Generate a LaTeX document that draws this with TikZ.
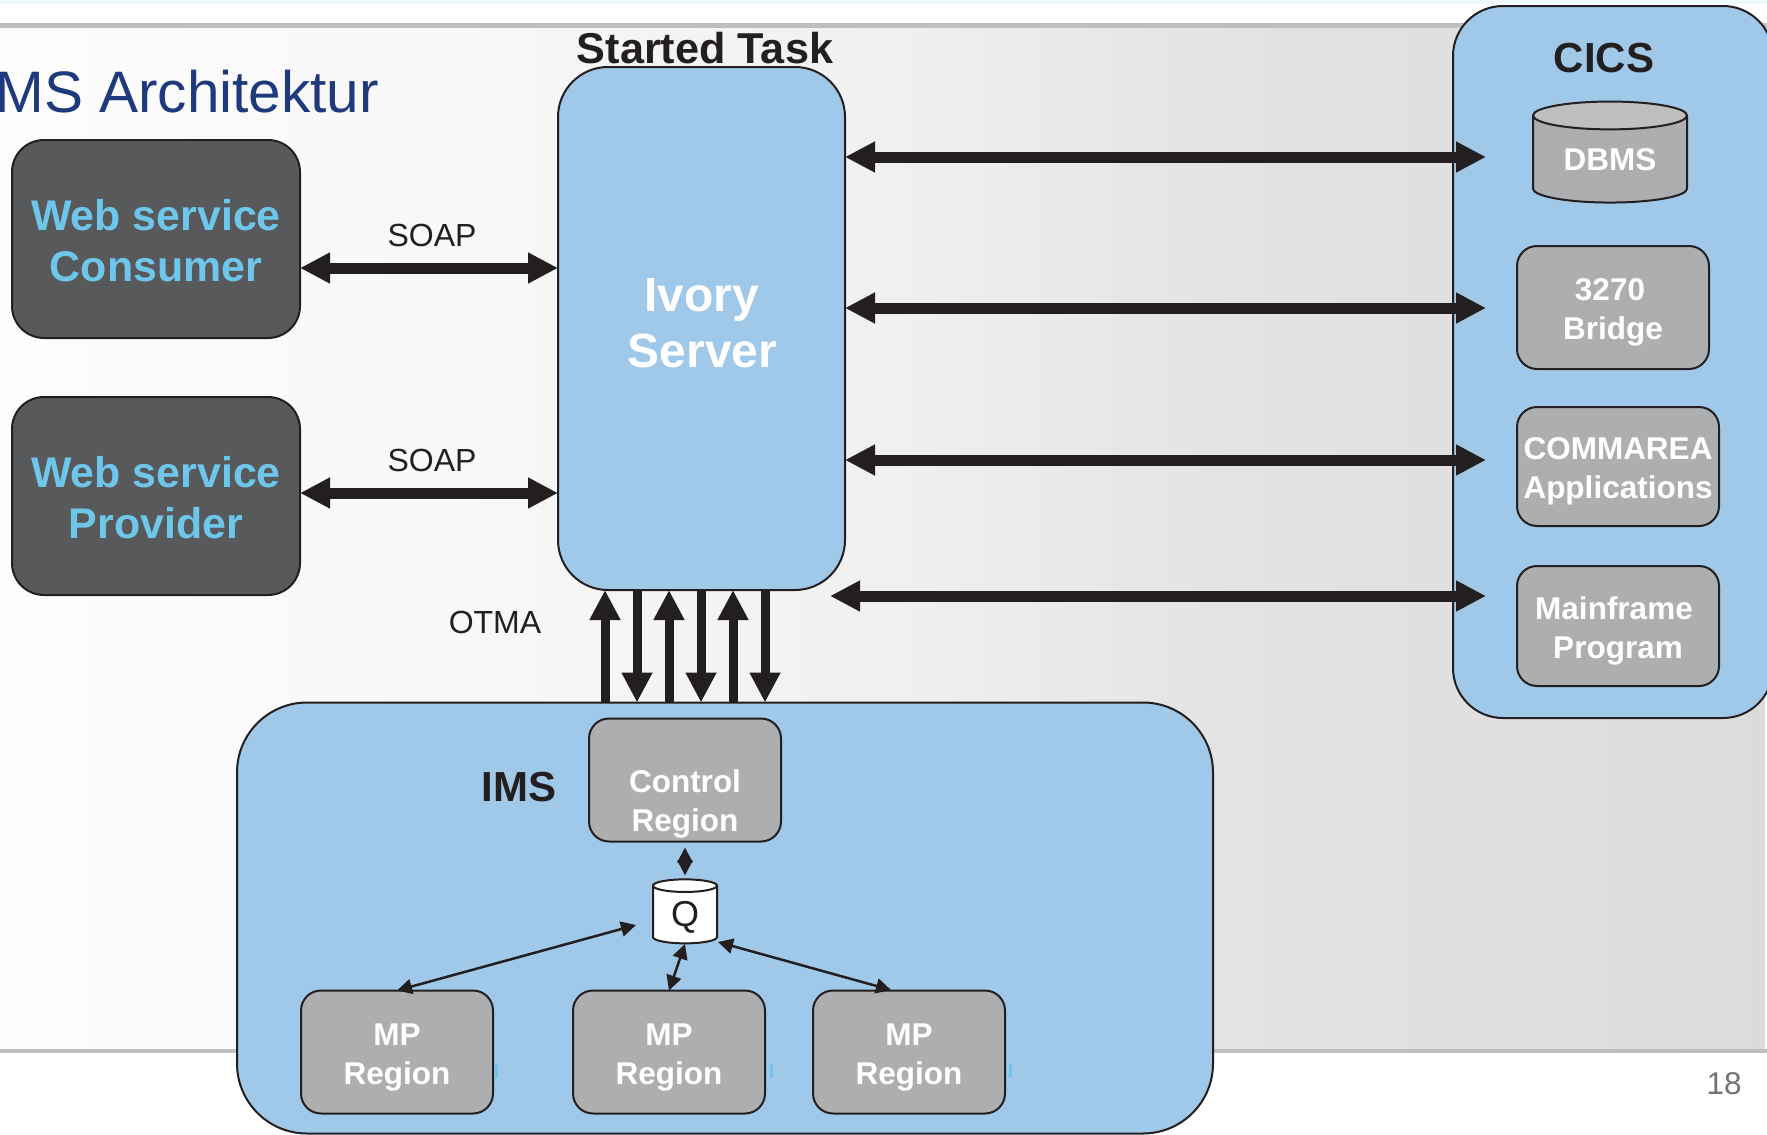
\documentclass[tikz,border=0pt]{standalone}
\usepackage{fontspec}
\setmainfont{Liberation Sans}
\usetikzlibrary{arrows.meta, positioning, shapes.geometric}
\definecolor{boxblue}{HTML}{A0C8E8}
\definecolor{boxdark}{HTML}{58595B}
\definecolor{boxgray}{HTML}{ADAEB0}
\definecolor{inkblack}{HTML}{231F20}
\definecolor{webcyan}{HTML}{6EC6EA}
\definecolor{titleblue}{HTML}{1F3A7C}
\pgfdeclarehorizontalshading{panelshade}{100bp}{color(0bp)=(black!1); color(25bp)=(black!1); color(39bp)=(black!3); color(50.5bp)=(black!6); color(60bp)=(black!11); color(75bp)=(black!14); color(100bp)=(black!14)}
\newcommand{\lowline}{\rule{0pt}{32pt}}
\newcommand{\lowweb}{\rule{0pt}{35pt}}

\begin{document}
\begin{tikzpicture}[
    x=1pt, y=-1pt,
    node distance=40pt,
    every node/.style={outer sep=0pt, inner sep=0pt, align=center, text=inkblack},
    darkbox/.style={draw=inkblack, line width=2pt, fill=boxdark, rounded corners=32pt, minimum width=288pt, minimum height=198pt, text=webcyan, font=\fontsize{42.9}{51}\selectfont\bfseries},
    bluebox/.style={draw=inkblack, line width=2pt, fill=boxblue, rounded corners=#1},
    regionbox/.style={draw=inkblack, line width=2pt, fill=boxgray, rounded corners=20pt, minimum width=192pt, minimum height=123pt, text=white, font=\fontsize{31.5}{39}\selectfont\bfseries},
    boldtext/.style={font=\fontsize{42}{50}\selectfont\bfseries},
    thintext/.style={font=\fontsize{32}{38}\selectfont},
    bigarrow/.style={{Triangle[length=30pt,width=29pt]}-{Triangle[length=30pt,width=29pt]}, line width=11pt, draw=inkblack},
    tallarrow/.style={-{Triangle[length=30pt,width=29pt]}, line width=9pt, draw=inkblack},
    smallarrow/.style={{Triangle[length=15pt,width=15pt]}-{Triangle[length=15pt,width=15pt]}, line width=2.5pt, draw=inkblack}
]
\useasboundingbox (0,0) rectangle (1767,1135);
\fill[white] (0,0) rectangle (1767,1135);
\fill[black!5!cyan!6] (0,0) rectangle (1767,4);
\shade[shading=panelshade] (0,26) rectangle (1765,1050);
\fill[black!25] (0,23) rectangle (1767,28);
\fill[black!25] (0,1049) rectangle (1767,1053);

\node[bluebox=50pt, minimum width=320pt, minimum height=712pt] (cics) at (1613,362) {};
\node[bluebox=70pt, minimum width=976pt, minimum height=431pt] (ims) at (725,918) {};
\node[bluebox=50pt, minimum width=287pt, minimum height=523pt, text=white, font=\fontsize{48}{56}\selectfont\bfseries] (ivory) at (701.5,328.5) {Ivory\\\hspace*{2pt}Server\rule[-12pt]{0pt}{1pt}};

\node[font=\fontsize{58.5}{60}\selectfont, text=titleblue, anchor=east] (title) at (379,92) {MS Architektur};
\node[boldtext, font=\fontsize{43.2}{50}\selectfont\bfseries] (started) at (705,48) {Started Task};
\node[boldtext] (cicslabel) at (1604,58) {CICS};
\node[boldtext] (imslabel) at (519,787) {IMS};

\node[darkbox] (consumer) at (156,239) {\lowweb Web service\\Consumer};
\node[darkbox, below=59pt of consumer] (provider) {\lowweb Web service\\Provider};

\node[cylinder, shape border rotate=90, aspect=0.3, draw=inkblack, line width=2pt, cylinder uses custom fill, cylinder body fill=boxgray, cylinder end fill=black!25, minimum width=154pt, minimum height=101pt, text=white, font=\fontsize{31.5}{39}\selectfont\bfseries] (dbms) at (1610,159.5) {DBMS};
\node[regionbox] (bridge) at (1613,307.5) {\lowline 3270\hspace*{6pt}\\Bridge};
\node[regionbox, minimum width=202pt, minimum height=119pt] (commarea) at (1618,466.5) {\lowline COMMAREA\\Applications};
\node[regionbox, minimum width=202pt, minimum height=120pt, below=40pt of commarea] (mainframe) {\lowline Mainframe\hspace*{8pt}\\Program};

\node[regionbox] (control) at (685,780) {\rule{0pt}{71pt}Control\\Region};
\node[cylinder, shape border rotate=90, aspect=0.45, draw=inkblack, line width=2pt, fill=white, minimum width=64pt, minimum height=64pt, font=\fontsize{36}{39}\selectfont] (queue) at (685,915) {\rule{0pt}{30pt}Q};
\node[regionbox] (mpb) at (669,1052) {\lowline MP\\Region};
\node[regionbox, left=80pt of mpb] (mpa) {\lowline MP\\Region};
\node[regionbox, right=48pt of mpb] (mpc) {\lowline MP\\Region};
\foreach \sliver in {495,770,1009}
    \fill[webcyan] (\sliver,1064) rectangle ++(3,14);

\node[thintext] (soapa) at (432,235) {SOAP};
\node[thintext] (soapb) at (432,460) {SOAP};
\node[thintext] (otma) at (495,622) {OTMA};
\node[font=\fontsize{31.5}{38}\selectfont, text=black!55] (pagenum) at (1724,1084) {18};

\coordinate (linka) at ([yshift=-29pt]consumer.east);
\coordinate (linkb) at ([yshift=3pt]provider.east);
\draw[bigarrow] (linka) -- (linka -| ivory.west);
\draw[bigarrow] (linkb) -- (linkb -| ivory.west);

\coordinate (tipdbms) at (1486,157);
\coordinate (tipbridge) at (1486,308);
\coordinate (tipcomm) at (1486,460);
\coordinate (tipmain) at (1486,596);
\coordinate (startmain) at (830,596);
\draw[bigarrow] (tipdbms -| ivory.east) -- (tipdbms);
\draw[bigarrow] (tipbridge -| ivory.east) -- (tipbridge);
\draw[bigarrow] (tipcomm -| ivory.east) -- (tipcomm);
\draw[bigarrow] (startmain) -- (tipmain);

\foreach \px in {605,669,733}
    \draw[tallarrow] (\px,0 |- ims.north) -- (\px,0 |- ivory.south);
\foreach \px in {637,701,765}
    \draw[tallarrow] (\px,0 |- ivory.south) -- (\px,0 |- ims.north);

\coordinate (qleft) at (636,925);
\coordinate (qbottom) at (685,944);
\coordinate (qright) at (718,942);
\coordinate (mpcend) at (891,990);
\draw[smallarrow, shorten <=6pt, shorten >=4pt] (control.south) -- (queue.north);
\draw[smallarrow] (mpa.north) -- (qleft);
\draw[smallarrow] (mpb.north) -- (qbottom);
\draw[smallarrow] (mpcend) -- (qright);
\end{tikzpicture}
\end{document}
